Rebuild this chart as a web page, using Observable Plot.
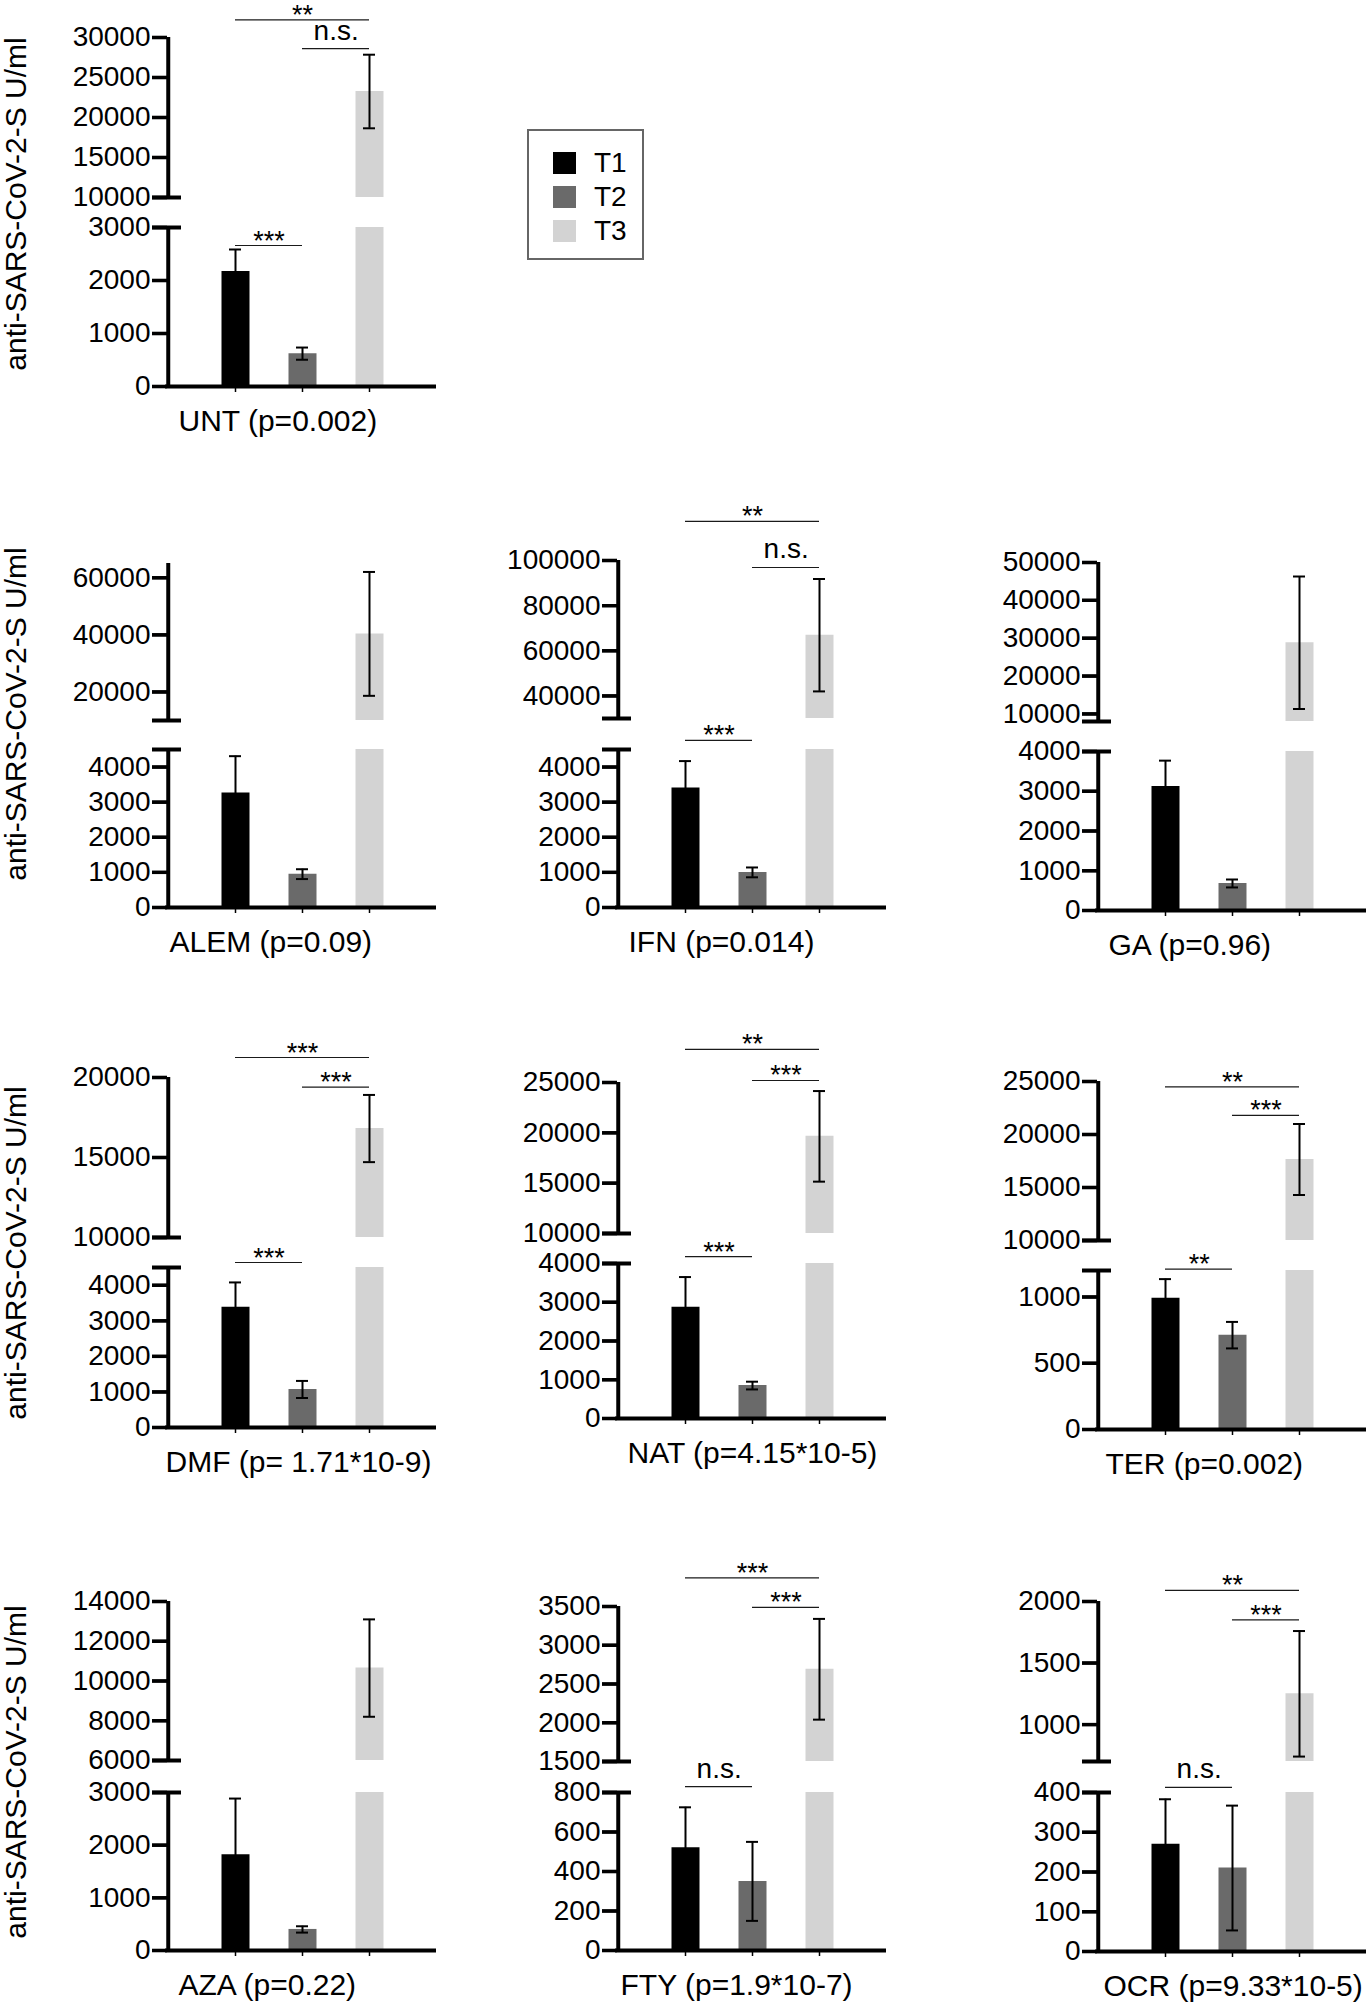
<!DOCTYPE html>
<html>
<head>
<meta charset="utf-8">
<script src="https://cdn.jsdelivr.net/npm/d3@7"></script>
<script src="https://cdn.jsdelivr.net/npm/@observablehq/plot@0.6"></script>
<style>
  body { margin: 0; background: #fff; }
  #fig { position: relative; width: 1368px; height: 2007px; overflow: hidden; background: #fff;
         font-family: "Liberation Sans", Arial, sans-serif; color: #000; }
  .ytitle { position: absolute; font-size: 30px; white-space: nowrap; line-height: 1;
            transform: translate(-50%, -50%) rotate(-90deg); }
  #legend { position: absolute; box-sizing: border-box; border: 2.5px solid #666; background: #fff; }
  .lg-item { position: absolute; display: flex; align-items: center; font-size: 28px; line-height: 1; }
  .lg-swatch { width: 23px; height: 22px; margin-right: 18px; }
</style>
</head>
<body>
<div id="fig"></div>
<script>
// ---------------- data ----------------
const panels = ["UNT", "ALEM", "IFN", "GA", "DMF", "NAT", "TER", "AZA", "FTY", "OCR"];
const pValues = ["p=0.002", "p=0.09", "p=0.014", "p=0.96", "p= 1.71*10-9", "p=4.15*10-5", "p=0.002", "p=0.22", "p=1.9*10-7", "p=9.33*10-5"];
const groups = ["T1", "T2", "T3"];

const t1Mean = [2170, 3260, 3400, 3120, 3380, 2870, 990, 1820, 520, 270];
const t1Sem  = [415, 1050, 770, 650, 700, 780, 145, 1065, 205, 113];
const t2Mean = [620, 950, 1000, 680, 1070, 850, 712, 400, 350, 210];
const t2Sem  = [115, 140, 140, 100, 240, 100, 100, 60, 200, 157];
const t3Mean = [23250, 40340, 66900, 28800, 16810, 19650, 17640, 10650, 2690, 1250];
const t3Sem  = [4600, 21700, 24900, 17500, 2100, 4500, 3350, 2450, 650, 510];

const lowerDomain = [[0, 3000], [0, 4500], [0, 4500], [0, 4000], [0, 4500], [0, 4000], [0, 1200], [0, 3000], [0, 800], [0, 400]];
const upperDomain = [[10000, 30000], [10000, 65000], [30000, 100000], [8000, 50000], [10000, 20000], [10000, 25000], [10000, 25000], [6000, 14000], [1500, 3500], [700, 2000]];

const lowerTicks = [
  [0, 1000, 2000, 3000],
  [0, 1000, 2000, 3000, 4000],
  [0, 1000, 2000, 3000, 4000],
  [0, 1000, 2000, 3000, 4000],
  [0, 1000, 2000, 3000, 4000],
  [0, 1000, 2000, 3000, 4000],
  [0, 500, 1000],
  [0, 1000, 2000, 3000],
  [0, 200, 400, 600, 800],
  [0, 100, 200, 300, 400]
];
const upperTicks = [
  [10000, 15000, 20000, 25000, 30000],
  [20000, 40000, 60000],
  [40000, 60000, 80000, 100000],
  [10000, 20000, 30000, 40000, 50000],
  [10000, 15000, 20000],
  [10000, 15000, 20000, 25000],
  [10000, 15000, 20000, 25000],
  [6000, 8000, 10000, 12000, 14000],
  [1500, 2000, 2500, 3000, 3500],
  [1000, 1500, 2000]
];

// significance brackets: panel, from, to, segment, level (data units of that segment), label
const brackets = [
  ["UNT", "T1", "T3", "upper", 32200, "**"],
  ["UNT", "T2", "T3", "upper", 28600, "n.s."],
  ["UNT", "T1", "T2", "lower", 2660, "***"],
  ["IFN", "T1", "T3", "upper", 117300, "**"],
  ["IFN", "T2", "T3", "upper", 96900, "n.s."],
  ["IFN", "T1", "T2", "lower", 4760, "***"],
  ["DMF", "T1", "T3", "upper", 21250, "***"],
  ["DMF", "T2", "T3", "upper", 19400, "***"],
  ["DMF", "T1", "T2", "lower", 4640, "***"],
  ["NAT", "T1", "T3", "upper", 28300, "**"],
  ["NAT", "T2", "T3", "upper", 25200, "***"],
  ["NAT", "T1", "T2", "lower", 4180, "***"],
  ["TER", "T1", "T3", "upper", 24500, "**"],
  ["TER", "T2", "T3", "upper", 21800, "***"],
  ["TER", "T1", "T2", "lower", 1210, "**"],
  ["FTY", "T1", "T3", "upper", 3870, "***"],
  ["FTY", "T2", "T3", "upper", 3490, "***"],
  ["FTY", "T1", "T2", "lower", 830, "n.s."],
  ["OCR", "T1", "T3", "upper", 2090, "**"],
  ["OCR", "T2", "T3", "upper", 1850, "***"],
  ["OCR", "T1", "T2", "lower", 413, "n.s."]
];

const yTitle = "anti-SARS-CoV-2-S U/ml";

// ---------------- layout & style ----------------
const colors = ["#000000", "#6a6a6a", "#d3d3d3"];
const axisXpx = [167, 167, 617, 1097, 167, 617, 1097, 167, 617, 1097];
const upperTopPx = [37, 563, 560, 562, 1077, 1082, 1081, 1601, 1606, 1601];
const upperBottomPx = [197, 720, 718, 721, 1237, 1233, 1240, 1760, 1761, 1761];
const lowerTopPx = [227, 749, 749, 751, 1267, 1263, 1270, 1792, 1792, 1792];
const zeroPx = [386, 907, 907, 910, 1427, 1418, 1429, 1950, 1950, 1951];
const labelDx = [11, 2, 11, 11, -2, 10, 8, 11, 3, 6];
const titleCenters = [204, 714, 1253, 1772];

const FW = 269, ML = 120, MR = 24, MTU = 60, MBU = 22, MTL = 46, MBL = 64;
const BAR = 28, WHISK = 2, CAP = 6, AXW = 4, TICKW = 3.3, TICK = 15;
const halfStep = FW / (groups.length + 1) / 2;
const FONT = "'Liberation Sans', Arial, sans-serif";
const means = [t1Mean, t2Mean, t3Mean];
const sems = [t1Sem, t2Sem, t3Sem];

const fig = document.getElementById("fig");

function place(el, left, top) {
  el.style.position = "absolute";
  el.style.left = left + "px";
  el.style.top = top + "px";
  fig.appendChild(el);
}

function bracketMarks(list) {
  const out = [];
  list.forEach(b => {
    out.push(Plot.ruleY([b], {x1: "from", x2: "to", y: "level", stroke: "#1a1a1a", strokeWidth: 1.2}));
    const span = groups.indexOf(b.to) - groups.indexOf(b.from);
    const mid = span === 2 ? groups[groups.indexOf(b.from) + 1] : b.from;
    out.push(Plot.text([b], {
      x: () => mid, y: "level", text: "text",
      dx: span === 2 ? 0 : halfStep,
      dy: b.text === "n.s." ? -9 : 4,
      lineAnchor: "bottom", textAnchor: "middle",
      fontSize: b.text === "n.s." ? 28 : 27, fill: "#000"
    }));
  });
  return out;
}

// y axis of one segment: thick line, thick ticks, labels
function yAxisMarks(ticks, lo, hi) {
  return [
    Plot.axisY(ticks, {tickSize: TICK, tickPadding: 2, strokeWidth: TICKW, fontSize: 28,
      tickFormat: d => `${d}`, label: null, stroke: "#000", fill: "#000"}),
    Plot.ruleY(ticks, {y: d => d, insetLeft: -TICK, insetRight: FW, stroke: "#000", strokeWidth: TICKW}),
    Plot.ruleX([groups[0]], {x: d => d, y1: lo, y2: hi, dx: -2 * halfStep, stroke: "#000", strokeWidth: AXW})
  ];
}

panels.forEach((name, i) => {
  const [uLo, uHi] = upperDomain[i];
  const [lLo, lHi] = lowerDomain[i];
  const rows = groups.map((g, j) => ({group: g, mean: means[j][i], sem: sems[j][i]}));
  const br = brackets.filter(b => b[0] === name)
    .map(([p, from, to, seg, level, text]) => ({from, to, seg, level, text}));
  const style = {background: "transparent", overflow: "visible", fontFamily: FONT, color: "#000"};
  const width = ML + FW + MR;
  const color = {domain: groups, range: colors};

  // ----- upper segment -----
  const upRows = rows.filter(d => d.mean > uLo);
  const upCaps = upRows.flatMap(d => [{group: d.group, v: d.mean - d.sem}, {group: d.group, v: d.mean + d.sem}]);
  const upper = Plot.plot({
    width, height: MTU + (upperBottomPx[i] - upperTopPx[i]) + MBU,
    marginLeft: ML, marginRight: MR, marginTop: MTU, marginBottom: MBU,
    style,
    x: {type: "point", domain: groups, padding: 1, axis: null},
    y: {domain: [uLo, uHi]},
    color,
    marks: [
      Plot.ruleX(upRows, {x: "group", y1: uLo, y2: d => Math.min(d.mean, uHi), stroke: "group", strokeWidth: BAR}),
      Plot.ruleX(upRows, {x: "group", y1: d => d.mean - d.sem, y2: d => d.mean + d.sem, stroke: "#000", strokeWidth: WHISK}),
      Plot.ruleY(upCaps, {x1: "group", x2: "group", y: "v", insetLeft: -CAP, insetRight: -CAP, stroke: "#000", strokeWidth: WHISK}),
      ...yAxisMarks(upperTicks[i], uLo, uHi),
      Plot.ruleY([uLo], {stroke: "#000", strokeWidth: AXW, insetLeft: -TICK, insetRight: FW - 14}),
      ...bracketMarks(br.filter(b => b.seg === "upper"))
    ]
  });
  place(upper, axisXpx[i] - ML, upperTopPx[i] - MTU);

  // ----- lower segment -----
  const lowRows = rows.filter(d => d.mean < lHi);
  const lowCaps = lowRows.flatMap(d => [{group: d.group, v: d.mean - d.sem}, {group: d.group, v: d.mean + d.sem}]);
  const label = `${name} (${pValues[i]})`;
  const lower = Plot.plot({
    width, height: MTL + (zeroPx[i] - lowerTopPx[i]) + MBL,
    marginLeft: ML, marginRight: MR, marginTop: MTL, marginBottom: MBL,
    style,
    x: {type: "point", domain: groups, padding: 1},
    y: {domain: [lLo, lHi]},
    color,
    marks: [
      Plot.ruleX(rows, {x: "group", y1: lLo, y2: d => Math.min(d.mean, lHi), stroke: "group", strokeWidth: BAR}),
      Plot.ruleX(lowRows, {x: "group", y1: d => d.mean - d.sem, y2: d => d.mean + d.sem, stroke: "#000", strokeWidth: WHISK}),
      Plot.ruleY(lowCaps, {x1: "group", x2: "group", y: "v", insetLeft: -CAP, insetRight: -CAP, stroke: "#000", strokeWidth: WHISK}),
      ...yAxisMarks(lowerTicks[i], lLo, lHi),
      Plot.axisX({tickSize: 6, strokeWidth: 1.5, tickFormat: () => "", label: null, stroke: "#000"}),
      Plot.ruleY([lLo], {stroke: "#000", strokeWidth: AXW, insetLeft: -2}),
      Plot.ruleY([lHi], {stroke: "#000", strokeWidth: AXW, insetLeft: -TICK, insetRight: FW - 14}),
      ...bracketMarks(br.filter(b => b.seg === "lower")),
      Plot.text([label], {text: d => d, frameAnchor: "bottom-left", textAnchor: "start", lineAnchor: "bottom",
        dx: labelDx[i], dy: 44, fontSize: 30, fill: "#000"})
    ]
  });
  place(lower, axisXpx[i] - ML, lowerTopPx[i] - MTL);
});

// y-axis titles
titleCenters.forEach(cy => {
  const d = document.createElement("div");
  d.className = "ytitle";
  d.textContent = yTitle;
  d.style.left = "16px";
  d.style.top = cy + "px";
  fig.appendChild(d);
});

// legend
const legend = document.createElement("div");
legend.id = "legend";
legend.style.left = "527px";
legend.style.top = "129px";
legend.style.width = "117px";
legend.style.height = "131px";
groups.forEach((g, j) => {
  const item = document.createElement("div");
  item.className = "lg-item";
  item.style.left = "24px";
  item.style.top = (18 + j * 34) + "px";
  const sw = document.createElement("div");
  sw.className = "lg-swatch";
  sw.style.background = colors[j];
  const tx = document.createElement("span");
  tx.textContent = g;
  item.appendChild(sw);
  item.appendChild(tx);
  legend.appendChild(item);
});
fig.appendChild(legend);
</script>
</body>
</html>
